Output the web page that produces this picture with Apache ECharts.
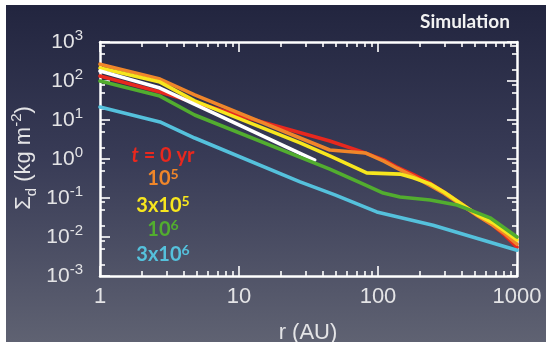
<!DOCTYPE html>
<html><head><meta charset="utf-8">
<script src="https://cdn.jsdelivr.net/npm/echarts@6/dist/echarts.min.js"></script>
<style>
html,body{margin:0;padding:0;background:#fff;}
#wrap{position:relative;width:546px;height:342px;overflow:hidden;}
#bg{position:absolute;left:6px;top:5px;right:0;bottom:0;background:linear-gradient(to bottom,#22253f 0%,#383b56 45%,#5f6272 100%);}
#chart{position:absolute;left:0;top:0;width:546px;height:342px;}
</style></head><body>
<div id="wrap"><div id="bg"></div><div id="chart"></div></div>
<script>
// radius (AU) and dust surface density (kg m^-2) per epoch
const rRed    = [1, 2.7, 10, 45, 78, 110, 137, 180, 237, 300, 409, 520, 672, 820, 1000];
const sRed    = [134, 52, 13, 2.9, 1.5, 0.95, 0.62, 0.40, 0.24, 0.14, 0.066, 0.036, 0.020, 0.011, 0.0055];
const rOrange = [1, 2.7, 4.8, 27.5, 45, 81, 110, 137, 180, 237, 300, 409, 520, 672, 820, 1000];
const sOrange = [270, 112, 44, 3.45, 1.7, 1.43, 0.88, 0.58, 0.36, 0.21, 0.13, 0.062, 0.035, 0.020, 0.012, 0.0066];
const rYellow = [1, 2.7, 4.8, 27.5, 45, 83, 144, 179, 237, 300, 409, 520, 672, 820, 1000];
const sYellow = [215, 94, 31, 2.6, 1.2, 0.44, 0.41, 0.33, 0.23, 0.14, 0.066, 0.037, 0.023, 0.014, 0.0084];
const rWhite  = [1, 2.7, 35];
const sWhite  = [180, 66, 0.94];
const rGreen  = [1, 2.7, 4.8, 45, 80, 109, 144, 237, 370, 482, 640, 1000];
const sGreen  = [100, 41, 13.4, 0.55, 0.22, 0.134, 0.106, 0.089, 0.066, 0.046, 0.031, 0.010];
const rCyan   = [1, 2.7, 4.8, 27.5, 49, 98, 249, 1000];
const sCyan   = [21.5, 8.9, 3.45, 0.26, 0.12, 0.044, 0.020, 0.0046];

const xMajor = [1, 10, 100, 1000];
const xMinor = [2,3,4,5,6,7,8,9,20,30,40,50,60,70,80,90,200,300,400,500,600,700,800,900];
const yMajor = [0.001, 0.01, 0.1, 1, 10, 100, 1000];
const yMinor = [0.002,0.005,0.008,0.02,0.05,0.08,0.2,0.5,0.8,2,5,8,20,50,80,200,500,800];

const C = {red:'#e8281e', orange:'#f0862a', yellow:'#f7e61e', white:'#ffffff', green:'#52ad2f', cyan:'#55c1dc'};
const pair = (r, s) => r.map((v, i) => [v, s[i]]);
const txt = '#e4e4e6';
const font = 'Liberation Sans';

const chart = echarts.init(document.getElementById('chart'), null, {renderer:'canvas'});
const gridPos = {left:100, right:29, top:42, bottom:66};
const lineW = 2.5;
function xAx(grid, pos, major){
  return {type:'log', logBase:10, min:1, max:1000, gridIndex:grid, position:pos,
    axisLine:{show:major, lineStyle:{color:'#fff', width:lineW}},
    axisTick:{show:true, inside:true, length: major?10:5, lineStyle:{color:'#fff', width:1.6}, customValues: major?xMajor:xMinor},
    axisLabel:{show: major && pos==='bottom', customValues:xMajor, formatter:v=>String(Math.round(v)), color:txt, fontSize:22, fontFamily:font, margin:10},
    splitLine:{show:false}, minorTick:{show:false}};
}
function yAx(grid, pos, major){
  return {type:'log', logBase:10, min:0.001, max:1000, gridIndex:grid, position:pos,
    axisLine:{show:major, lineStyle:{color:'#fff', width:lineW}},
    axisTick:{show:true, inside:true, length: major?10:5, lineStyle:{color:'#fff', width:1.6}, customValues: major?yMajor:yMinor},
    axisLabel:{show: major && pos==='left', customValues:yMajor, margin:17,
      formatter:v=>'{a|10}{b|' + Math.round(Math.log10(v)) + '}',
      rich:{a:{fontSize:21, color:txt, fontFamily:font, lineHeight:28},
            b:{fontSize:15, color:txt, fontFamily:font, lineHeight:12, verticalAlign:'top'}}},
    splitLine:{show:false}, minorTick:{show:false}};
}
function ser(name, r, s, color){
  return {name, type:'line', xAxisIndex:0, yAxisIndex:0, data:pair(r, s), showSymbol:false, symbol:'none',
    lineStyle:{color, width:3.6, cap:'round', join:'round'}, smooth:false, animation:false};
}
const legendText = (t, y, color) => ({type:'text', x:163, y, style:{text:t, fill:color, align:'center', verticalAlign:'middle',
  rich:{n:{fontSize:20, fontWeight:'bold', fontFamily:'Lato', fill:color, lineHeight:24},
        i:{fontSize:20, fontWeight:'bold', fontStyle:'italic', fontFamily:'Lato', fill:color, lineHeight:24},
        s:{fontSize:14, fontWeight:'bold', fontFamily:'Lato', fill:color, lineHeight:12, verticalAlign:'top'}}}});

chart.setOption({
  backgroundColor:'transparent',
  animation:false,
  grid:[Object.assign({}, gridPos), Object.assign({}, gridPos)],
  xAxis:[xAx(0,'bottom',true), xAx(0,'top',true), xAx(1,'bottom',false), xAx(1,'top',false)],
  yAxis:[yAx(0,'left',true), yAx(0,'right',true), yAx(1,'left',false), yAx(1,'right',false)],
  series:[
    ser('t = 0 yr', rRed, sRed, C.red),
    ser('1e5', rOrange, sOrange, C.orange),
    ser('3e5', rYellow, sYellow, C.yellow),
    ser('white', rWhite, sWhite, C.white),
    ser('1e6', rGreen, sGreen, C.green),
    ser('3e6', rCyan, sCyan, C.cyan)
  ],
  graphic:[
    {type:'text', x:465, y:22, style:{text:'Simulation', fill:'#f2f2f2', font:'bold 19px Lato', align:'center', verticalAlign:'middle'}},
    {type:'text', x:308, y:333, style:{text:'r (AU)', fill:txt, font:'22px "Liberation Sans"', align:'center', verticalAlign:'middle'}},
    {type:'text', x:24, y:158, rotation:Math.PI/2, style:{text:'{m|Σ}{d|d}{m| (kg m}{p|-2}{m|)}', fill:txt, align:'center', verticalAlign:'middle',
      rich:{m:{fontSize:22, fontFamily:font, fill:txt, lineHeight:30},
            d:{fontSize:15, fontFamily:font, fill:txt, lineHeight:12, verticalAlign:'bottom'},
            p:{fontSize:15, fontFamily:font, fill:txt, lineHeight:12, verticalAlign:'top'}}}},
    legendText('{i|t}{n| = 0 yr}', 156, C.red),
    legendText('{n|10}{s|5}', 179, C.orange),
    legendText('{n|3x10}{s|5}', 206, C.yellow),
    legendText('{n|10}{s|6}', 230, C.green),
    legendText('{n|3x10}{s|6}', 255, C.cyan)
  ]
});
</script>
</body></html>
